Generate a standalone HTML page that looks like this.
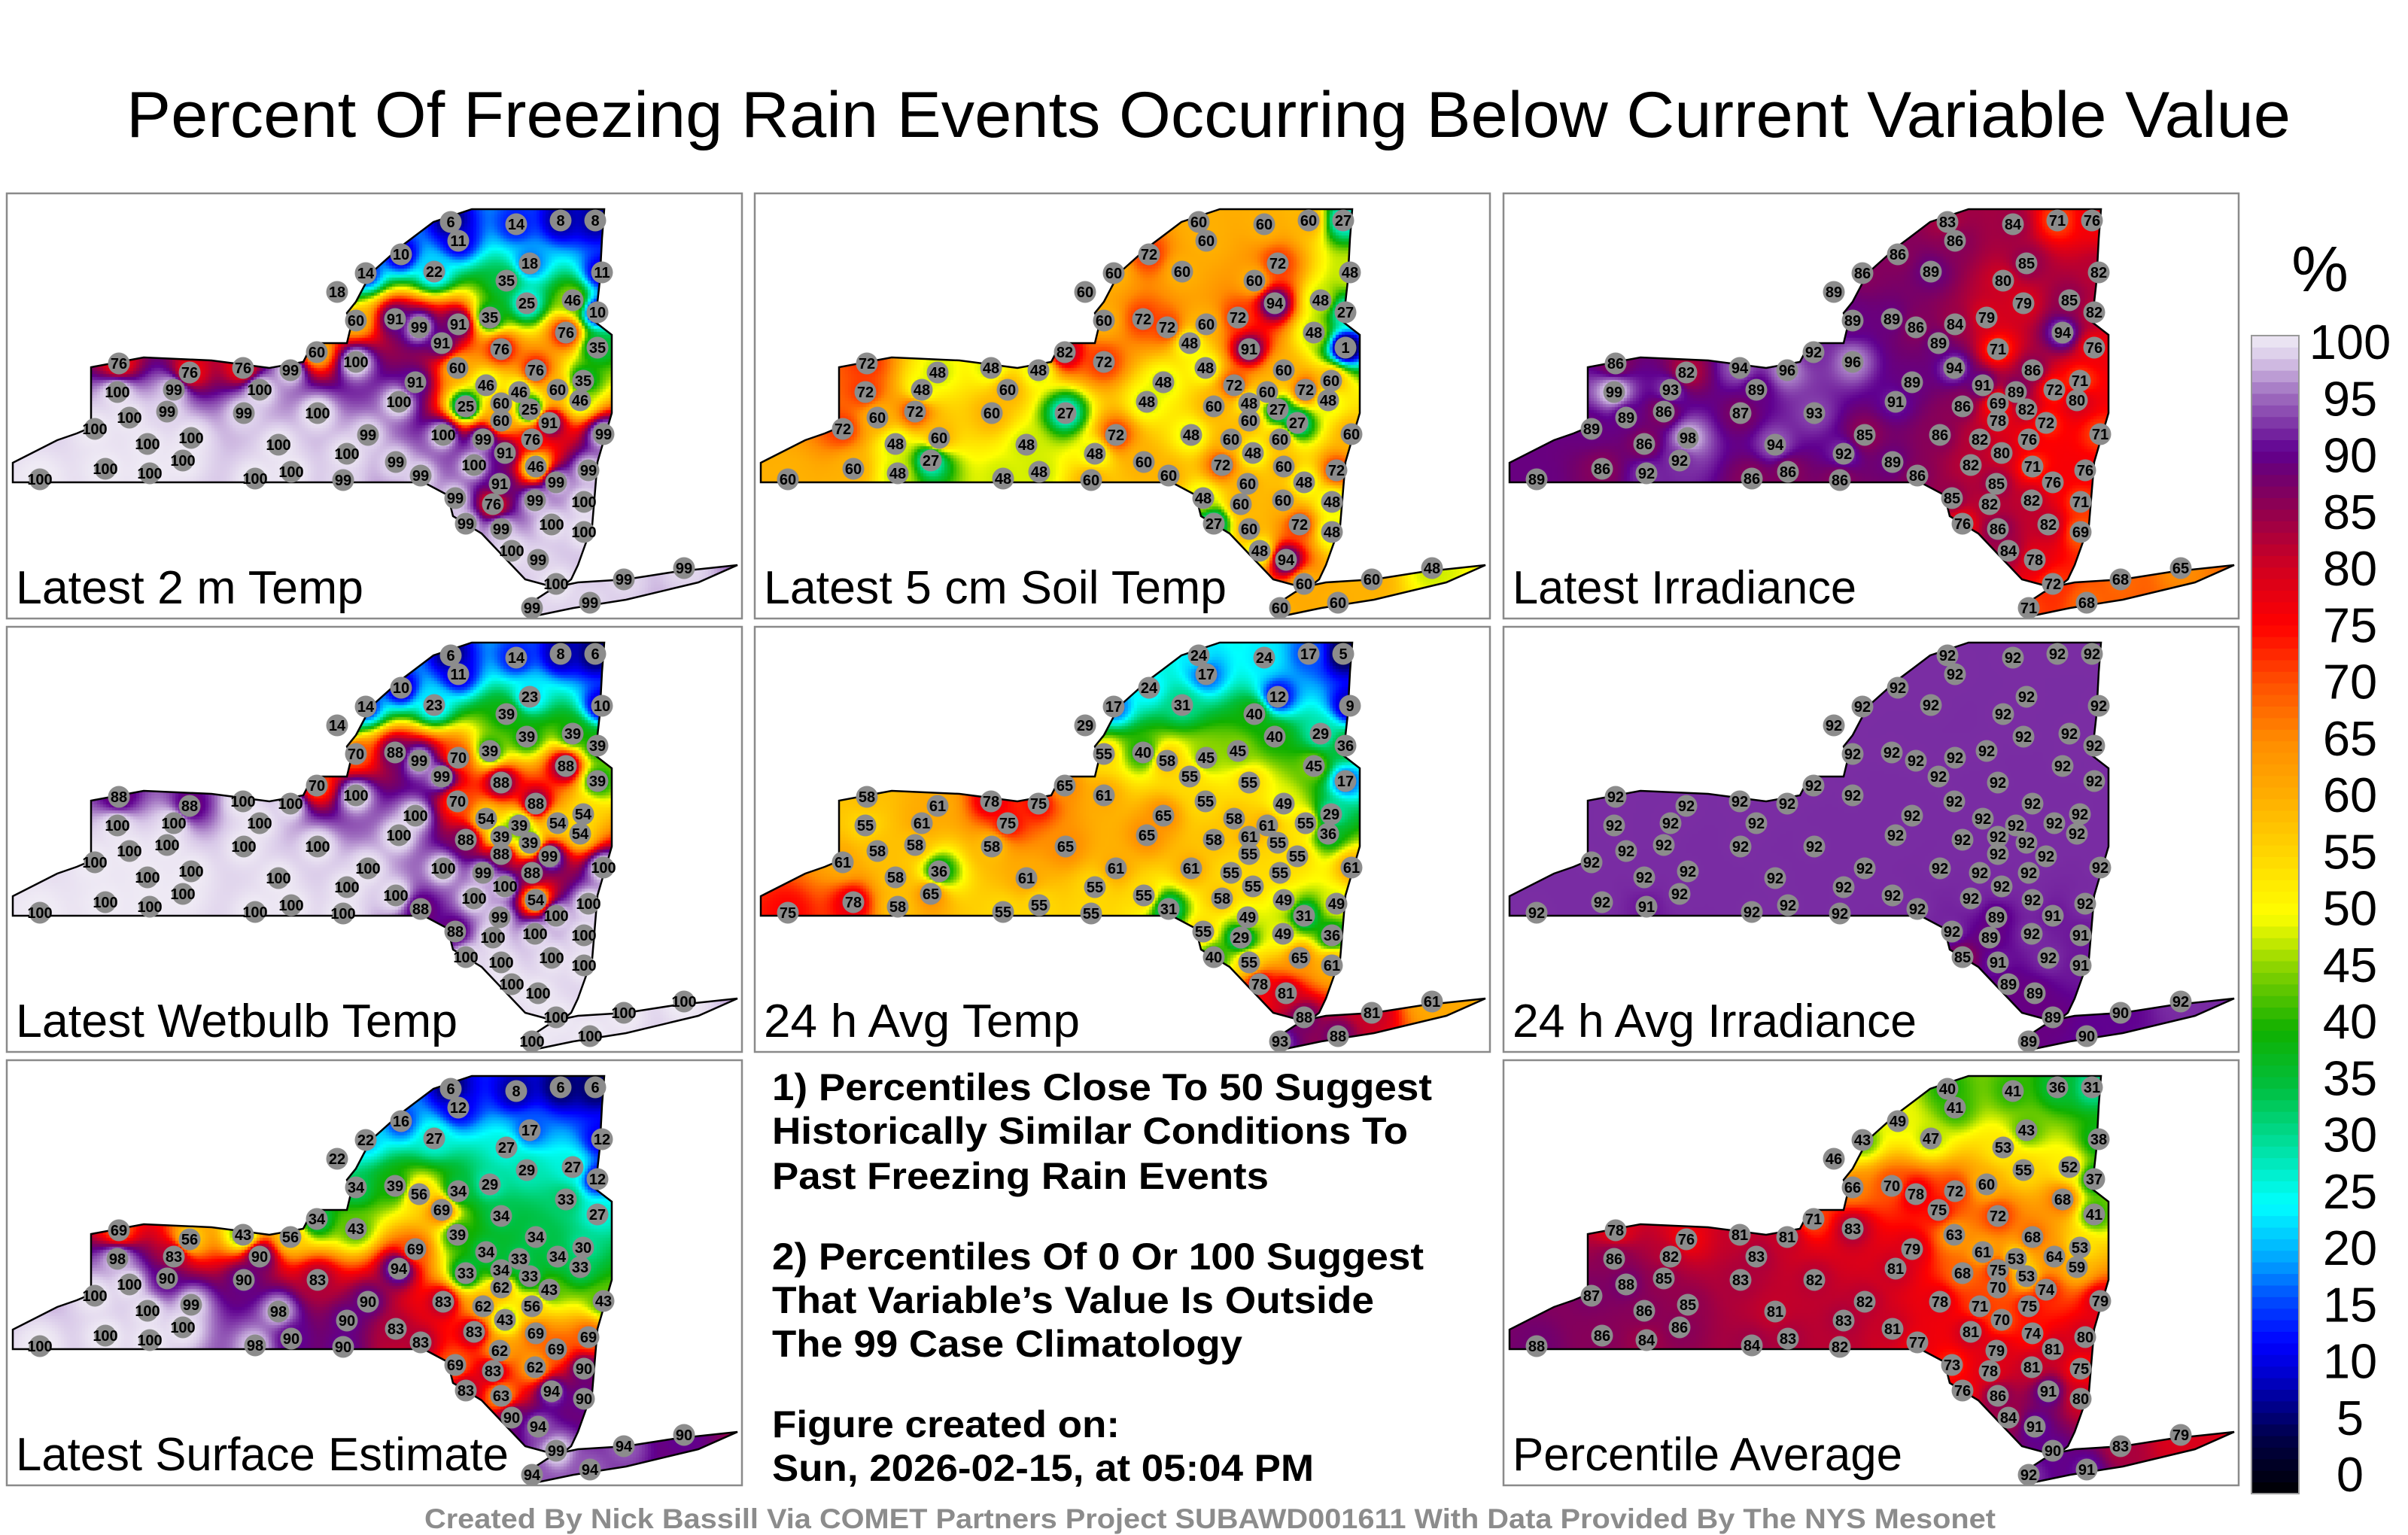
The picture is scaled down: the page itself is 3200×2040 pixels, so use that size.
<!DOCTYPE html>
<html><head><meta charset="utf-8">
<style>
html,body{margin:0;padding:0;background:#fff;}
#root{position:relative;width:3200px;height:2040px;overflow:hidden;background:#fff;font-family:"Liberation Sans",sans-serif;}
canvas{position:absolute;}
svg{position:absolute;left:0;top:0;}
</style></head>
<body>
<div id="root">
<svg id="main" width="3200" height="2040">
  <text x="1606" y="182" font-size="86" text-anchor="middle" textLength="2876" lengthAdjust="spacingAndGlyphs" font-family="Liberation Sans, sans-serif">Percent Of Freezing Rain Events Occurring Below Current Variable Value</text>
  <text x="3083" y="387" font-size="85" text-anchor="middle" font-family="Liberation Sans, sans-serif">%</text>
  <g font-family="Liberation Sans, sans-serif" font-weight="bold" font-size="50">
    <text x="1026" y="1462" textLength="877" lengthAdjust="spacingAndGlyphs">1) Percentiles Close To 50 Suggest</text>
    <text x="1026" y="1520" textLength="845" lengthAdjust="spacingAndGlyphs">Historically Similar Conditions To</text>
    <text x="1026" y="1580" textLength="660" lengthAdjust="spacingAndGlyphs">Past Freezing Rain Events</text>
    <text x="1026" y="1687" textLength="866" lengthAdjust="spacingAndGlyphs">2) Percentiles Of 0 Or 100 Suggest</text>
    <text x="1026" y="1745" textLength="800" lengthAdjust="spacingAndGlyphs">That Variable’s Value Is Outside</text>
    <text x="1026" y="1803" textLength="625" lengthAdjust="spacingAndGlyphs">The 99 Case Climatology</text>
    <text x="1026" y="1910" textLength="462" lengthAdjust="spacingAndGlyphs">Figure created on:</text>
    <text x="1026" y="1968" textLength="720" lengthAdjust="spacingAndGlyphs">Sun, 2026-02-15, at 05:04 PM</text>
  </g>
  <text x="1608" y="2031" font-size="37" font-weight="bold" fill="#8c8c8c" text-anchor="middle" textLength="2088" lengthAdjust="spacingAndGlyphs" font-family="Liberation Sans, sans-serif">Created By Nick Bassill Via COMET Partners Project SUBAWD001611 With Data Provided By The NYS Mesonet</text>
  <g id="cbar"></g>
  <g id="panels"></g>
</svg>
</div>
<script>
// ---- colorbar data ----
const cbTicks = [0,5,10,15,20,25,30,35,40,45,50,55,60,65,70,75,80,85,90,95,100];
const cmapVals = [0,5,10,13,17,20,25,30,35,40,45,50,55,60,65,70,75,80,85,88,90,95,98,100];
const cmapCols = ["#000000","#00004a","#0000c8","#0000ff","#0050ff","#00a0ff","#00ffff","#00e0a0","#00c040","#10b000","#80d000","#ffff00","#ffd800","#ffb000","#ff8c00","#ff5000","#ff0000","#d00020","#900050","#700070","#600090","#a070c0","#d8c8e8","#f0ecf5"];

// ---- station data (positions relative to each panel, shared) ----
const stationX = [590,600,677,736,782,524,477,439,568,695,791,664,691,752,785,464,516,548,600,642,743,785,412,464,578,657,599,703,766,149,243,314,377,147,222,336,543,637,681,732,610,657,695,762,657,721,163,213,315,413,521,117,245,361,480,580,633,698,793,187,662,703,131,234,452,517,621,773,44,190,330,378,447,550,655,730,596,646,702,767,610,657,724,767,671,706,730,698,775,820,900];
const stationY = [38,63,41,36,36,81,106,131,104,93,105,116,146,142,158,169,167,178,174,165,185,205,211,224,199,207,232,235,249,226,238,232,235,264,261,261,251,255,264,261,283,279,287,275,302,305,298,290,292,292,277,313,325,334,321,321,327,327,320,333,345,363,366,355,346,357,361,368,380,372,379,370,381,375,386,384,405,413,408,410,439,446,440,450,475,487,519,551,544,513,498];

const vals2mTemp = [6,11,14,8,8,10,14,18,22,18,11,35,25,46,10,60,91,99,91,35,76,35,60,100,91,76,60,76,35,76,76,76,99,100,99,100,91,46,46,60,25,60,25,46,60,91,100,99,99,100,100,100,100,100,99,100,99,76,99,100,91,46,100,100,100,99,100,99,100,100,100,100,99,99,91,99,99,76,99,100,99,99,100,100,100,99,100,99,99,99,99];
const valsSoil = [60,60,60,60,27,72,60,60,60,72,48,60,94,48,27,60,72,72,60,72,48,1,82,72,48,91,48,60,60,72,48,48,48,72,48,60,48,72,60,72,60,48,27,48,60,27,60,72,60,27,48,72,60,48,72,48,60,60,60,48,48,60,60,27,48,60,72,72,60,48,48,48,60,60,60,48,48,60,60,48,27,60,72,48,48,94,60,60,60,60,48];
const valsIrr = [83,86,84,71,76,86,86,89,89,85,82,80,79,85,82,89,89,86,84,79,94,76,92,96,89,71,94,86,71,86,82,94,96,99,93,89,89,91,89,72,86,69,82,80,78,72,89,86,87,93,91,89,98,94,85,86,82,76,71,86,80,71,86,92,92,89,82,76,89,92,86,86,86,86,85,76,85,82,82,71,76,86,82,69,84,78,72,71,68,68,65];
const valsWetbulb = [6,11,14,8,6,10,14,14,23,23,10,39,39,39,39,70,88,99,70,39,88,39,70,100,99,88,70,88,54,88,88,100,100,100,100,100,100,54,39,54,88,39,39,54,88,99,100,100,100,100,100,100,100,100,100,100,99,88,100,100,100,54,100,100,100,100,100,100,100,100,100,100,100,88,99,100,88,100,100,100,100,100,100,100,100,100,100,100,100,100,100];
const valsAvgTemp = [24,17,24,17,5,24,17,29,31,12,9,40,40,29,36,55,40,58,45,45,45,17,65,61,55,55,55,49,29,58,61,78,75,55,61,75,65,58,61,55,58,61,55,36,55,55,58,58,58,65,65,61,36,61,61,61,55,55,61,58,55,49,78,65,55,55,58,49,75,58,55,55,55,31,49,31,55,29,49,36,40,55,65,61,78,81,88,93,88,81,61];
const valsAvgIrr = [92,92,92,92,92,92,92,92,92,92,92,92,92,92,92,92,92,92,92,92,92,92,92,92,92,92,92,92,92,92,92,92,92,92,92,92,92,92,92,92,92,92,92,92,92,92,92,92,92,92,92,92,92,92,92,92,92,92,92,92,92,92,92,92,92,92,92,92,92,91,92,92,92,92,89,91,92,89,92,91,85,91,92,91,89,89,89,89,90,90,92];
const valsSurface = [6,12,8,6,6,16,22,22,27,17,12,27,29,27,12,34,39,56,34,29,33,27,34,43,69,34,39,34,30,69,56,43,56,98,83,90,69,34,33,34,33,34,33,33,62,43,100,90,90,83,94,100,99,98,90,83,62,56,43,100,43,69,100,100,90,83,83,69,100,100,98,90,90,83,62,69,69,83,62,90,83,63,94,90,90,94,99,94,94,94,90];
const valsAverage = [40,41,41,36,31,49,43,46,47,43,38,53,55,52,37,66,70,78,72,60,68,41,71,83,75,72,63,68,53,78,76,81,81,86,82,83,79,61,53,64,68,75,53,59,70,74,88,85,83,82,81,87,85,81,82,78,71,75,79,86,70,74,86,86,83,81,81,80,88,84,84,83,82,77,79,81,73,78,81,75,76,86,91,80,84,91,90,92,91,83,79];

const panelTitles = ["Latest 2 m Temp","Latest 5 cm Soil Temp","Latest Irradiance","Latest Wetbulb Temp","24 h Avg Temp","24 h Avg Irradiance","Latest Surface Estimate","Percentile Average"];
const panelValues = [vals2mTemp,valsSoil,valsIrr,valsWetbulb,valsAvgTemp,valsAvgIrr,valsSurface,valsAverage];
const panelNames = ["latest-2m-temp","latest-5cm-soil-temp","latest-irradiance","latest-wetbulb-temp","24h-avg-temp","24h-avg-irradiance","latest-surface-estimate","percentile-average"];

// layout (not data)
const colX = [9,1003,1998], rowY = [257,833,1409];
const panelSlots = [[0,0],[1,0],[2,0],[0,1],[1,1],[2,1],[0,2],[2,2]];
const labelW = [462,615,457,587,420,537,655,518];
const PW = 977, PH = 565;
const mainland = [[8,384],[8,358],[67,328],[93,319],[112,311],[112,254],[112,231],[182,218],[272,222],[349,232],[394,224],[407,199],[452,199],[458,174],[452,159],[464,144],[484,106],[522,72],[567,38],[618,21],[794,21],[791,60],[788,117],[782,171],[804,188],[804,292],[785,357],[778,441],[759,494],[750,513],[735,525],[715,520],[689,513],[631,452],[593,429],[586,401],[554,384]];
const island = [[735,522],[759,517],[823,513],[887,503],[971,494],[919,517],[823,540],[753,551],[700,562],[695,545],[718,530]];

function hex(h){return [parseInt(h.substr(1,2),16),parseInt(h.substr(3,2),16),parseInt(h.substr(5,2),16)];}
const cmapRGB = cmapCols.map(hex);
function cmap(v){
  v=Math.max(0,Math.min(100,v));
  for(let i=0;i<cmapVals.length-1;i++){
    if(v<=cmapVals[i+1]){const t=(v-cmapVals[i])/(cmapVals[i+1]-cmapVals[i]);const a=cmapRGB[i],b=cmapRGB[i+1];
      return [a[0]+(b[0]-a[0])*t,a[1]+(b[1]-a[1])*t,a[2]+(b[2]-a[2])*t].map(Math.round);}
  }
  return cmapRGB[cmapRGB.length-1];
}
const NS="http://www.w3.org/2000/svg";
function mk(tag,attrs,parent){const e=document.createElementNS(NS,tag);for(const k in attrs)e.setAttribute(k,attrs[k]);parent.appendChild(e);return e;}

// colorbar
const cbX=2992, cbW=63, cbTop=446, cbBot=1985;
const cbY = v => cbBot - (v/100)*(cbBot-cbTop);
const cbLabelY = v => 460 + (100-v)*15.05;
const cb=document.getElementById('cbar');
for(let v=0;v<100;v+=1){
  const c=cmap(v+0.5);
  const r=mk('rect',{x:cbX,y:cbY(v+1),width:cbW,height:cbY(v)-cbY(v+1)+0.5,fill:`rgb(${c})`},cb);
  
  
}
const cbo=mk('rect',{x:cbX,y:cbTop,width:cbW,height:cbBot-cbTop,fill:'none',stroke:'#999','stroke-width':2},cb);


cbTicks.forEach(v=>{
  const t=mk('text',{x:3123,y:cbLabelY(v),'font-size':65,'text-anchor':'middle','dominant-baseline':'middle','font-family':'Liberation Sans, sans-serif'},cb);
  t.textContent=String(v);
  
  
});

// panels
const root=document.getElementById('root');
const pg=document.getElementById('panels');
function polyPath(ctx,pts){ctx.moveTo(pts[0][0],pts[0][1]);for(let i=1;i<pts.length;i++)ctx.lineTo(pts[i][0],pts[i][1]);ctx.closePath();}
const ptsStr = pts => pts.map(p=>p.join(',')).join(' ');
panelTitles.forEach((title,pi)=>{
  const [cx,ry]=panelSlots[pi];
  const ox=colX[cx], oy=rowY[ry];
  const vals=panelValues[pi];
  const cv=document.createElement('canvas');
  cv.width=PW; cv.height=PH;
  cv.style.left=ox+'px'; cv.style.top=oy+'px';
  
  
  root.insertBefore(cv,document.getElementById('main'));
  const ctx=cv.getContext('2d');
  ctx.save(); ctx.beginPath(); polyPath(ctx,mainland); polyPath(ctx,island); ctx.clip();
  const step=4;
  for(let y=0;y<PH;y+=step){for(let x=0;x<PW;x+=step){
    let sw=0,sv=0,hit=-1;
    for(let s=0;s<stationX.length;s++){
      const dx=x+2-stationX[s], dy=y+2-stationY[s]; const d2=dx*dx+dy*dy;
      if(d2<4){hit=s;break;}
      const w=1/(d2*Math.sqrt(d2)); sw+=w; sv+=w*vals[s];
    }
    const v = hit>=0?vals[hit]:sv/sw;
    const c=cmap(v); ctx.fillStyle=`rgb(${c[0]},${c[1]},${c[2]})`; ctx.fillRect(x,y,step,step);
  }}
  ctx.restore();
  const g=mk('g',{transform:`translate(${ox},${oy})`},pg);
  
  
  const fr=mk('rect',{x:0,y:0,width:PW,height:PH,fill:'none',stroke:'#8a8a8a','stroke-width':2.5},g);
  
  
  const ml=mk('polygon',{points:ptsStr(mainland),fill:'none',stroke:'#000','stroke-width':2.5},g);
  
  
  const li=mk('polygon',{points:ptsStr(island),fill:'none',stroke:'#000','stroke-width':2.5},g);
  
  
  stationX.forEach((sx,s)=>{
    const c=mk('circle',{cx:sx,cy:stationY[s],r:14.5,fill:'#8c8c8c'},g);
    
    
    const t=mk('text',{x:sx,y:stationY[s]+7,'font-size':20,'font-weight':'bold','text-anchor':'middle','font-family':'Liberation Sans Narrow, Liberation Sans, sans-serif'},g);
    t.textContent=String(vals[s]);
    
    
  });
  const lt=mk('text',{x:12,y:545,'font-size':62,'font-family':'Liberation Sans, sans-serif',textLength:labelW[pi],lengthAdjust:'spacingAndGlyphs'},g);
  lt.textContent=title;
  
  
});
</script>
</body></html>
